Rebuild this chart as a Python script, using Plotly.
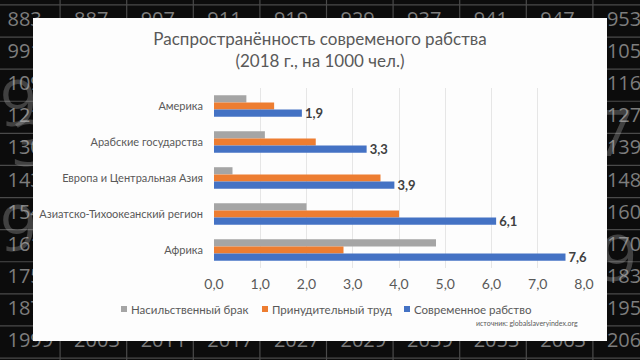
import plotly.graph_objects as go

# ---- chart data ----
categories = ["Америка", "Арабские государства", "Европа и Центральная Азия",
              "Азиатско-Тихоокеанский регион", "Африка"]
forced_marriage = [0.7, 1.1, 0.4, 2.0, 4.8]
forced_labour = [1.3, 2.2, 3.6, 4.0, 2.8]
modern_slavery = [1.9, 3.3, 3.9, 6.1, 7.6]
series_names = ["Насильственный брак", "Принудительный труд", "Современное рабство"]
x_ticks = [0, 1, 2, 3, 4, 5, 6, 7, 8]
title_text = "Распространённость современого рабства<br>(2018 г., на 1000 чел.)"
source_text = "источник: globalslaveryindex.org"

# ---- decorative background (table of numbers) ----
top_numbers = ["883", "887", "907", "911", "919", "929", "937", "941", "947", "953"]
bottom_numbers = ["1999", "2003", "2011", "2017", "2027", "2029", "2039", "2053", "2063", "2069"]
left_numbers = ["991", "1091", "1213", "1301", "1433", "1549", "1619", "1753", "1871"]
right_numbers = ["1051", "1163", "1277", "1399", "1481", "1607", "1709", "1831", "1951"]

W, H = 640, 360
COL0, COLW = -6.5, 66.6
ROW0, ROWH = 21, 32.1
PANEL = (33, 18, 607, 341)
LEGEND_X = [121, 262, 404]   # left edge of each legend swatch (px)
LEGEND_Y = 309

colors = ["#A5A5A5", "#ED7D31", "#4472C4"]
text_col = "#595959"
FONT = "Liberation Sans Narrow, Lato, sans-serif"
TFONT = "Lato"

fig = go.Figure()

# background grid lines
bx, by = [], []
for i in range(1, 10):
    x = COL0 + COLW * i
    bx += [x, x, None]
    by += [0, H, None]
for j in range(0, 12):
    y = ROW0 - ROWH / 2 + ROWH * j
    bx += [0, W, None]
    by += [y, y, None]
fig.add_trace(go.Scatter(x=bx, y=by, mode="lines", line=dict(color="#4a4a4a", width=1.2),
                         hoverinfo="skip", showlegend=False, xaxis="x", yaxis="y"))

# background numbers
nx, ny, nt = [], [], []
for i, t in enumerate(top_numbers):
    nx.append(COL0 + COLW * i + 14); ny.append(ROW0); nt.append(t)
for i, t in enumerate(bottom_numbers):
    nx.append(COL0 + COLW * i + 14); ny.append(ROW0 + ROWH * 10); nt.append(t)
for j, t in enumerate(left_numbers):
    nx.append(COL0 + 14); ny.append(ROW0 + ROWH * (j + 1)); nt.append(t)
for j, t in enumerate(right_numbers):
    nx.append(COL0 + COLW * 9 + 14); ny.append(ROW0 + ROWH * (j + 1)); nt.append(t)
fig.add_trace(go.Scatter(x=nx, y=ny, text=nt, mode="text", textposition="middle right",
                         textfont=dict(family="Open Sans", size=20, color="#7d7d7d"),
                         hoverinfo="skip", showlegend=False, xaxis="x", yaxis="y"))

# ghost big digits
gx = [0, 12, 0, 596, 600]
gy = [110, 150, 235, 140, 265]
gt = ["9", "3", "9", "7", "9"]
fig.add_trace(go.Scatter(x=gx, y=gy, text=gt, mode="text", textposition="middle right",
                         textfont=dict(family="Open Sans", size=64, color="rgba(190,190,190,0.3)"),
                         hoverinfo="skip", showlegend=False, xaxis="x", yaxis="y"))

# white panel
x0, y0, x1, y1 = PANEL
fig.add_trace(go.Scatter(x=[x0, x1, x1, x0, x0], y=[y0, y0, y1, y1, y0], mode="lines",
                         fill="toself", fillcolor="#FDFDFD", line=dict(color="#FDFDFD", width=0),
                         hoverinfo="skip", showlegend=False, xaxis="x", yaxis="y"))

# bars
for name, vals, c in zip(series_names, [forced_marriage, forced_labour, modern_slavery], colors):
    is_main = name == series_names[2]
    fig.add_trace(go.Bar(
        y=categories, x=vals, name=name, orientation="h", marker=dict(color=c, line=dict(width=0)),
        xaxis="x2", yaxis="y2", showlegend=False,
        texttemplate="%{x:.1f}" if is_main else None,
        textposition="outside" if is_main else "none",
        constraintext="none",
        textfont=dict(family=FONT, size=13, color="#404040", weight="bold"),
        cliponaxis=False,
    ))

# legend drawn as swatches + labels (Excel-like compact legend)
shapes, annotations = [], []
for name, c, lx in zip(series_names, colors, LEGEND_X):
    shapes.append(dict(type="rect", xref="paper", yref="paper",
                       x0=lx / W, x1=(lx + 6) / W,
                       y0=1 - (LEGEND_Y + 3) / H, y1=1 - (LEGEND_Y - 3) / H,
                       fillcolor=c, line=dict(width=0), layer="above"))
    annotations.append(dict(text=name, xref="paper", yref="paper", x=(lx + 8) / W,
                            y=1 - LEGEND_Y / H, xanchor="left", yanchor="middle",
                            showarrow=False,
                            font=dict(family=FONT, size=11.5, color=text_col)))
annotations.append(dict(text=source_text, xref="paper", yref="paper", x=580 / W, y=1 - 323 / H,
                        xanchor="right", yanchor="middle", showarrow=False,
                        font=dict(family=FONT, size=7, color=text_col)))

fig.update_layout(
    width=W, height=H,
    margin=dict(l=0, r=0, t=0, b=0, autoexpand=False),
    paper_bgcolor="#0c0c0c",
    plot_bgcolor="rgba(0,0,0,0)",
    separators=", ",
    barmode="group",
    bargap=0.4,
    bargroupgap=0,
    showlegend=False,
    font=dict(family=FONT, color=text_col),
    xaxis=dict(domain=[0, 1], range=[0, W], visible=False, fixedrange=True, automargin=False),
    yaxis=dict(domain=[0, 1], range=[H, 0], visible=False, fixedrange=True, automargin=False),
    xaxis2=dict(domain=[214 / W, 584 / W], range=[0, 8], anchor="y2", automargin=False,
                tickvals=x_ticks, tickformat=".1f", showgrid=True, gridcolor="#E6E6E6",
                gridwidth=1, zeroline=False, showline=False, ticks="",
                tickfont=dict(family=FONT, size=14, color=text_col), ticklabelstandoff=6),
    yaxis2=dict(domain=[1 - 268 / H, 1 - 88 / H], anchor="x2", autorange="reversed",
                automargin=False,
                type="category", showgrid=False, zeroline=False, showline=False, ticks="",
                tickfont=dict(family=FONT, size=11, color=text_col), ticklabelstandoff=10),
    title=dict(text=title_text, x=320 / W, xanchor="center", y=1 - 45 / H, yanchor="top",
               font=dict(family=TFONT, size=17, color=text_col)),
    shapes=shapes,
    annotations=annotations,
)

fig.write_html("out.html", config={"displayModeBar": False},
               post_script="document.body.style.margin='0';document.body.style.overflow='hidden';")
